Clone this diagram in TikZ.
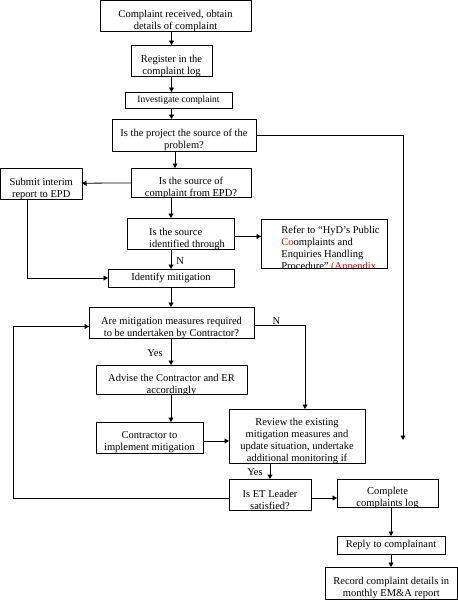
\documentclass[tikz,border=0pt]{standalone}
\usepackage{fontspec}
\setmainfont{Liberation Serif}
\usepackage{xcolor}
\usepackage{tikz}
\usetikzlibrary{arrows.meta}
\tikzset{box/.style={draw,line width=.8pt,inner sep=0pt,outer sep=0pt},
txt/.style 2 args={path picture={\node[anchor=north,align=center,inner sep=0pt] (#1) at ([yshift=-5pt]path picture bounding box.north) {#2};}},
txtl/.style 2 args={path picture={\node[anchor=north west,align=left,inner sep=0pt] (#1) at ([xshift=6.5pt,yshift=-5pt]path picture bounding box.north west) {#2};}},
arr/.style={-{Triangle[length=4.5pt,width=5pt]},line width=.8pt},
lbl/.style={inner sep=1pt}}

\begin{document}
\begin{tikzpicture}[x=1pt,y=-1pt,font=\fontsize{10.5}{12}\selectfont]
\useasboundingbox (0,0) rectangle (458,600);
\node[box,minimum width=151pt,minimum height=31pt,txt={recv-t}{Complaint received, obtain\\details of complaint}] (recv) at (175.5,16) {};
\node[box,minimum width=81pt,minimum height=31pt,txt={reg-t}{Register in the\\complaint log}] (reg) at (171.5,60.5) {};
\node[box,minimum width=107pt,minimum height=16pt,font=\fontsize{9.5}{11}\selectfont] (inv) at (178.5,100) {Investigate complaint};
\node[box,minimum width=144pt,minimum height=32pt,txt={proj-t}{Is the project the source of the\\problem?}] (proj) at (184,135) {};
\node[box,minimum width=120pt,minimum height=29pt,txt={epd-t}{Is the source of\\complaint from EPD?}] (epd) at (191,182.5) {};
\node[box,minimum width=81.5pt,minimum height=31pt,txt={intr-t}{Submit interim\\report to EPD}] (intr) at (41.25,183.5) {};
\node[box,minimum width=107pt,minimum height=31pt,txtl={iden-t}{Is the source\\identified through}] (iden) at (180.5,233.5) {};
\node[box,minimum width=126pt,minimum height=49pt,txtl={refer-t}{Refer to “HyD’s Public\\\textcolor{red}{Co}omplaints and\\Enquiries Handling\\Procedure” \textcolor{red}{(Appendix}}] (refer) at (324,243.5) {};
\node[box,minimum width=126pt,minimum height=18pt] (mitg) at (171,278) {Identify mitigation};
\node[box,minimum width=165pt,minimum height=31pt,txt={req-t}{Are mitigation measures required\\to be undertaken by Contractor?}] (req) at (171.5,322.5) {};
\node[box,minimum width=151pt,minimum height=29pt,txt={advs-t}{Advise the Contractor and ER\\accordingly}] (advs) at (171.5,379.5) {};
\node[box,minimum width=107pt,minimum height=31pt,txt={impl-t}{Contractor to\\implement mitigation}] (impl) at (149.5,437.5) {};
\node[box,minimum width=136pt,minimum height=54pt,txt={revw-t}{Review the existing\\mitigation measures and\\update situation, undertake\\additional monitoring if}] (revw) at (297,436) {};
\node[box,minimum width=82pt,minimum height=31pt,txt={etl-t}{Is ET Leader\\satisfied?}] (etl) at (270,494.5) {};
\node[box,minimum width=101pt,minimum height=28pt,txt={cplg-t}{Complete\\complaints log}] (cplg) at (387.5,493) {};
\node[box,minimum width=108pt,minimum height=18pt] (rply) at (391,545) {Reply to complainant};
\node[box,minimum width=132.5pt,minimum height=32.5pt,txt={rec-t}{Record complaint details in\\monthly EM\&A report}] (rec) at (391.25,583.25) {};
% loose ends of the two long lines
\coordinate (lp) at (13,498);
\coordinate (fr) at (403,440);
% main flow
\draw[arr] (recv.south -| reg) -- (reg);
\draw[arr] (reg.south) -- (reg.south |- inv.north);
\draw[arr] (inv.south -| reg) -- (proj.north -| reg);
\draw[arr] ([xshift=-9pt]proj.south) -- ([xshift=-9pt]proj.south |- epd.north);
\draw[arr] (epd) -- (intr);
\draw[arr] (epd.south -| mitg) -- (iden.north -| mitg);
\draw[arr] ([yshift=-3pt]iden.east) -- ([yshift=-3pt]iden.east -| refer.west);
\draw[arr] (iden.south -| mitg) -- (mitg) node[lbl,pos=.6,right,xshift=4pt] {N};
\draw[arr] ([xshift=-14pt]intr.south) |- (mitg.west);
\draw[arr] (mitg.south) -- (mitg.south |- req.north);
\draw[arr] (req.south -| mitg) -- (advs.north -| mitg) node[lbl,pos=.55,left,xshift=-7pt] {Yes};
\draw[arr] ([yshift=-3pt]req.east) -| ([xshift=8pt]revw.north) node[lbl,pos=.22,above] {N};
\draw[arr] (advs.south -| mitg) -- (impl.north -| mitg);
\draw[arr] ([yshift=-3.5pt]impl.east) -- ([yshift=-3.5pt]impl.east -| revw.west);
\draw[arr] (revw.south -| etl) -- (etl) node[lbl,pos=.6,left,xshift=-6pt] {Yes};
\draw[arr] ([yshift=-3.5pt]etl.east) -- ([yshift=-3.5pt]etl.east -| cplg.west);
\draw[arr] ([yshift=-3.5pt]etl.west) -- (etl.west |- lp) -- (lp) |- ([yshift=-4pt]req.west);
\draw[arr] (proj.east) -| (fr);
\draw[arr] (cplg.south -| rply) -- (rply);
\draw[arr] (rply.south) -- (rply.south |- rec.north);
\end{tikzpicture}
\end{document}
